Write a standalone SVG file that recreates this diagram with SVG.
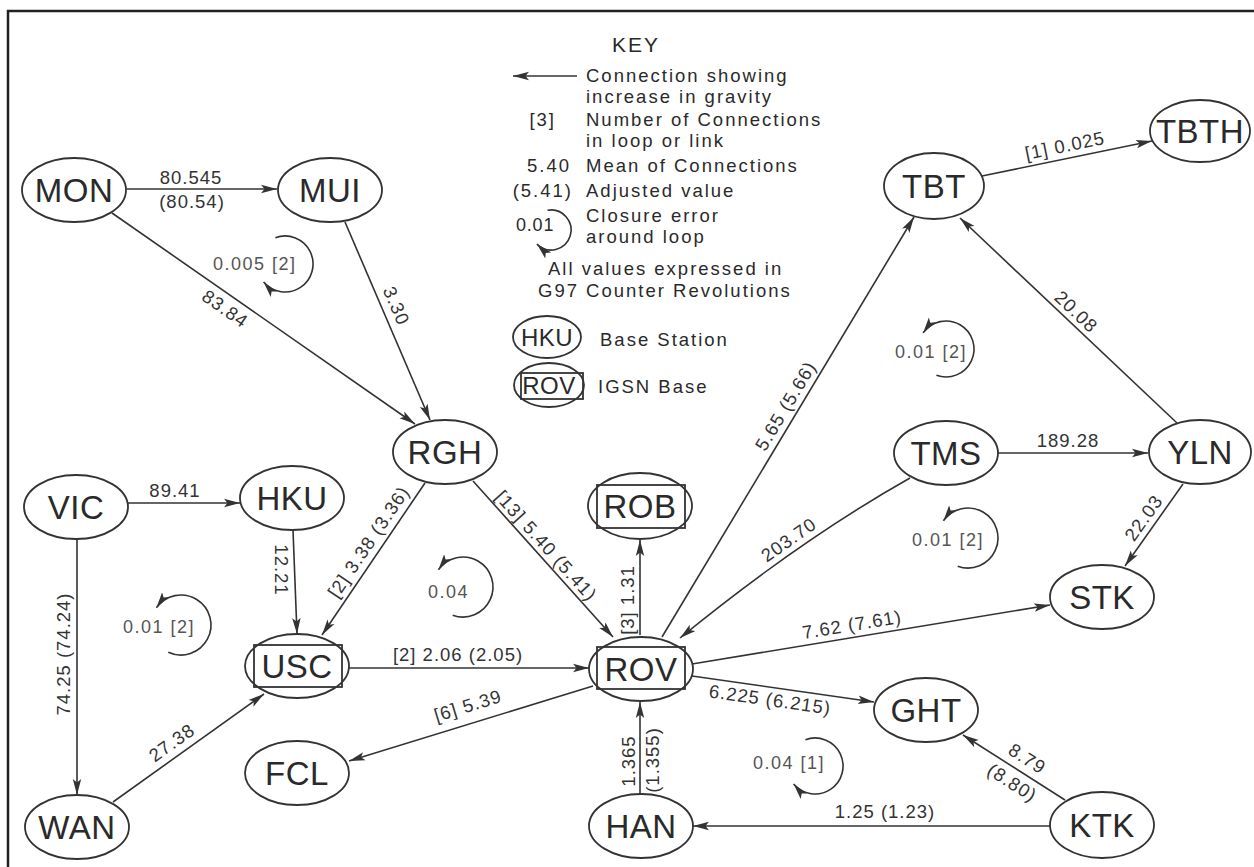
<svg xmlns="http://www.w3.org/2000/svg" width="1254" height="867" viewBox="0 0 1254 867">
<defs>
<marker id="ah" markerUnits="userSpaceOnUse" markerWidth="17" markerHeight="10" refX="16" refY="5" orient="auto">
<path d="M0,0.8 L16,5 L0,9.2 L3.5,5 z" fill="#333"/>
</marker>
<style>
.fr{stroke:#222;stroke-width:2.5;fill:none}
.nd ellipse{fill:#fff;stroke:#333;stroke-width:1.8}
.nd rect{fill:none;stroke:#333;stroke-width:1.8}
.nd text{font-family:"Liberation Sans",Arial,sans-serif;font-size:33px;fill:#2a2a2a;text-anchor:middle;letter-spacing:0.5px}
.e{stroke:#333;stroke-width:1.6;fill:none;marker-end:url(#ah)}
.l{font-family:"Liberation Sans",Arial,sans-serif;font-size:18.5px;fill:#333;text-anchor:middle;letter-spacing:1px}
.lt{font-family:"Liberation Sans",Arial,sans-serif;font-size:18px;fill:#555;letter-spacing:1.5px}
.k{font-family:"Liberation Sans",Arial,sans-serif;font-size:18.5px;fill:#2a2a2a;letter-spacing:2px}
</style>
</defs>
<rect width="1254" height="867" fill="#fff"/>
<path class="fr" d="M8,867 V11 H1254"/>

<g id="key">
<text class="k" x="636" y="52" text-anchor="middle" style="font-size:21px">KEY</text>
<line class="e" x1="577" y1="76" x2="513" y2="76"/>
<text class="k" x="586" y="82">Connection showing</text>
<text class="k" x="586" y="103">increase in gravity</text>
<text class="k" x="556" y="126" text-anchor="end">[3]</text>
<text class="k" x="586" y="126">Number of Connections</text>
<text class="k" x="586" y="147">in loop or link</text>
<text class="k" x="571" y="172" text-anchor="end">5.40</text>
<text class="k" x="586" y="172">Mean of Connections</text>
<text class="k" x="573" y="197" text-anchor="end">(5.41)</text>
<text class="k" x="586" y="197">Adjusted value</text>
<text class="k" x="516" y="231" style="font-size:18px;letter-spacing:0.8px">0.01</text>
<path class="e" d="M547.5,210.3 A20,20 0 1 1 536.9,244.1"/>
<text class="k" x="586" y="222">Closure error</text>
<text class="k" x="586" y="243">around loop</text>
<text class="k" x="548" y="275">All values expressed in</text>
<text class="k" x="538" y="297">G97 Counter Revolutions</text>
<g class="nd"><ellipse cx="547" cy="337" rx="34" ry="21"/><text x="547" y="346" style="font-size:24px">HKU</text></g>
<text class="k" x="600" y="346">Base Station</text>
<g class="nd"><ellipse cx="549" cy="385" rx="35" ry="22"/><rect x="521" y="373" width="62" height="26"/><text x="549" y="394" style="font-size:24px">ROV</text></g>
<text class="k" x="598" y="393">IGSN Base</text>
</g>

<g id="connectors">
<line class="e" x1="127" y1="189" x2="277" y2="189"/>
<line class="e" x1="112" y1="213" x2="415" y2="424"/>
<line class="e" x1="345" y1="222" x2="430" y2="420"/>
<line class="e" x1="128" y1="503" x2="240" y2="503"/>
<line class="e" x1="77" y1="539" x2="77" y2="795"/>
<line class="e" x1="293" y1="530" x2="297" y2="634"/>
<line class="e" x1="425" y1="483" x2="322" y2="635"/>
<line class="e" x1="113" y1="802" x2="264" y2="694"/>
<line class="e" x1="349" y1="668" x2="589" y2="668"/>
<line class="e" x1="593" y1="686" x2="349" y2="761"/>
<line class="e" x1="473" y1="481" x2="613" y2="637"/>
<line class="e" x1="640" y1="635" x2="640" y2="540"/>
<line class="e" x1="640" y1="794" x2="640" y2="702"/>
<line class="e" x1="662" y1="637" x2="914" y2="217"/>
<path class="e" d="M910,478 Q800,540 680,638"/>
<line class="e" x1="692" y1="664" x2="1050" y2="605"/>
<line class="e" x1="692" y1="676" x2="874" y2="702"/>
<line class="e" x1="982" y1="176" x2="1152" y2="141"/>
<line class="e" x1="1177" y1="423" x2="960" y2="218"/>
<line class="e" x1="998" y1="453" x2="1148" y2="453"/>
<line class="e" x1="1183" y1="484" x2="1125" y2="566"/>
<line class="e" x1="1065" y1="800" x2="963" y2="735"/>
<line class="e" x1="1050" y1="826" x2="693" y2="826"/>

<text class="l" x="191" y="184">80.545</text>
<text class="l" x="192" y="208">(80.54)</text>
<text class="l" transform="translate(225,309) rotate(35)" y="6">83.84</text>
<text class="l" transform="translate(396,306) rotate(66.8)" y="6">3.30</text>
<text class="l" x="175" y="497">89.41</text>
<text class="l" transform="translate(64,654) rotate(-90)" y="6">74.25 (74.24)</text>
<text class="l" transform="translate(281,570) rotate(90)" y="6">12.21</text>
<text class="l" transform="translate(369,542) rotate(-55.9)" y="6">[2] 3.38 (3.36)</text>
<text class="l" transform="translate(172,743) rotate(-35.6)" y="6">27.38</text>
<text class="l" x="458" y="661">[2] 2.06 (2.05)</text>
<text class="l" transform="translate(468,706) rotate(-17)" y="6">[6] 5.39</text>
<text class="l" transform="translate(546,546) rotate(48)" y="6">[13] 5.40 (5.41)</text>
<text class="l" transform="translate(628,600) rotate(-90)" y="6">[3] 1.31</text>
<text class="l" transform="translate(629,761) rotate(-90)" y="6">1.365</text>
<text class="l" transform="translate(653,760) rotate(-90)" y="6">(1.355)</text>
<text class="l" transform="translate(786,406) rotate(-59)" y="6">5.65 (5.66)</text>
<text class="l" transform="translate(789,540) rotate(-35)" y="6">203.70</text>
<text class="l" transform="translate(852,625) rotate(-9.4)" y="6">7.62 (7.61)</text>
<text class="l" transform="translate(770,700) rotate(8.2)" y="6">6.225 (6.215)</text>
<text class="l" transform="translate(1065,146) rotate(-11.6)" y="6">[1] 0.025</text>
<text class="l" transform="translate(1076,312) rotate(43.4)" y="6">20.08</text>
<text class="l" x="1068" y="447">189.28</text>
<text class="l" transform="translate(1144,518) rotate(-54.7)" y="6">22.03</text>
<text class="l" transform="translate(1027,759) rotate(32.5)" y="6">8.79</text>
<text class="l" transform="translate(1012,783) rotate(32.5)" y="6">(8.80)</text>
<text class="l" x="885" y="818">1.25 (1.23)</text>

<path class="e" d="M275.4,237.7 A28,28 0 1 1 263.6,282"/>
<text class="lt" x="213" y="270">0.005 [2]</text>
<path class="e" d="M168.3,652.2 A30,30 0 1 0 156.4,607.8"/>
<text class="lt" x="123" y="633">0.01 [2]</text>
<path class="e" d="M452.7,615.2 A30,30 0 1 0 438.4,569.8"/>
<text class="lt" x="428" y="598">0.04</text>
<path class="e" d="M936.4,375.3 A28,28 0 1 0 923.1,332.9"/>
<text class="lt" x="895" y="358">0.01 [2]</text>
<path class="e" d="M957.7,566.2 A30,30 0 1 0 943.4,520.8"/>
<text class="lt" x="912" y="546">0.01 [2]</text>
<path class="e" d="M805.4,739.7 A28,28 0 1 1 793.6,784"/>
<text class="lt" x="753" y="769">0.04 [1]</text>
</g>

<g id="MON" class="nd"><ellipse cx="74" cy="190" rx="52" ry="32"/><text x="74" y="202">MON</text></g>
<g id="MUI" class="nd"><ellipse cx="330" cy="190" rx="52" ry="32"/><text x="330" y="202">MUI</text></g>
<g id="TBT" class="nd"><ellipse cx="934" cy="186" rx="50" ry="33"/><text x="934" y="198">TBT</text></g>
<g id="TBTH" class="nd"><ellipse cx="1200" cy="131" rx="50" ry="31"/><text x="1200" y="143">TBTH</text></g>
<g id="RGH" class="nd"><ellipse cx="445" cy="452" rx="52" ry="32"/><text x="445" y="464">RGH</text></g>
<g id="VIC" class="nd"><ellipse cx="76" cy="507" rx="52" ry="32"/><text x="76" y="519">VIC</text></g>
<g id="HKU" class="nd"><ellipse cx="292" cy="498" rx="52" ry="32"/><text x="292" y="510">HKU</text></g>
<g id="ROB" class="nd"><ellipse cx="640" cy="506" rx="52" ry="33"/><rect x="597" y="485" width="88" height="43"/><text x="640" y="518">ROB</text></g>
<g id="TMS" class="nd"><ellipse cx="946" cy="453" rx="52" ry="32"/><text x="946" y="465">TMS</text></g>
<g id="YLN" class="nd"><ellipse cx="1200" cy="452" rx="51" ry="32"/><text x="1200" y="464">YLN</text></g>
<g id="STK" class="nd"><ellipse cx="1102" cy="597" rx="52" ry="32"/><text x="1102" y="609">STK</text></g>
<g id="USC" class="nd"><ellipse cx="297" cy="666" rx="52" ry="32"/><rect x="254" y="645" width="88" height="42"/><text x="297" y="678">USC</text></g>
<g id="ROV" class="nd"><ellipse cx="641" cy="669" rx="52" ry="32"/><rect x="597" y="647" width="88" height="42"/><text x="641" y="681">ROV</text></g>
<g id="GHT" class="nd"><ellipse cx="926" cy="710" rx="52" ry="32"/><text x="926" y="722">GHT</text></g>
<g id="FCL" class="nd"><ellipse cx="297" cy="773" rx="52" ry="32"/><text x="297" y="785">FCL</text></g>
<g id="WAN" class="nd"><ellipse cx="77" cy="827" rx="52" ry="32"/><text x="77" y="839">WAN</text></g>
<g id="HAN" class="nd"><ellipse cx="641" cy="826" rx="52" ry="32"/><text x="641" y="838">HAN</text></g>
<g id="KTK" class="nd"><ellipse cx="1102" cy="825" rx="52" ry="33"/><text x="1102" y="837">KTK</text></g>
</svg>
